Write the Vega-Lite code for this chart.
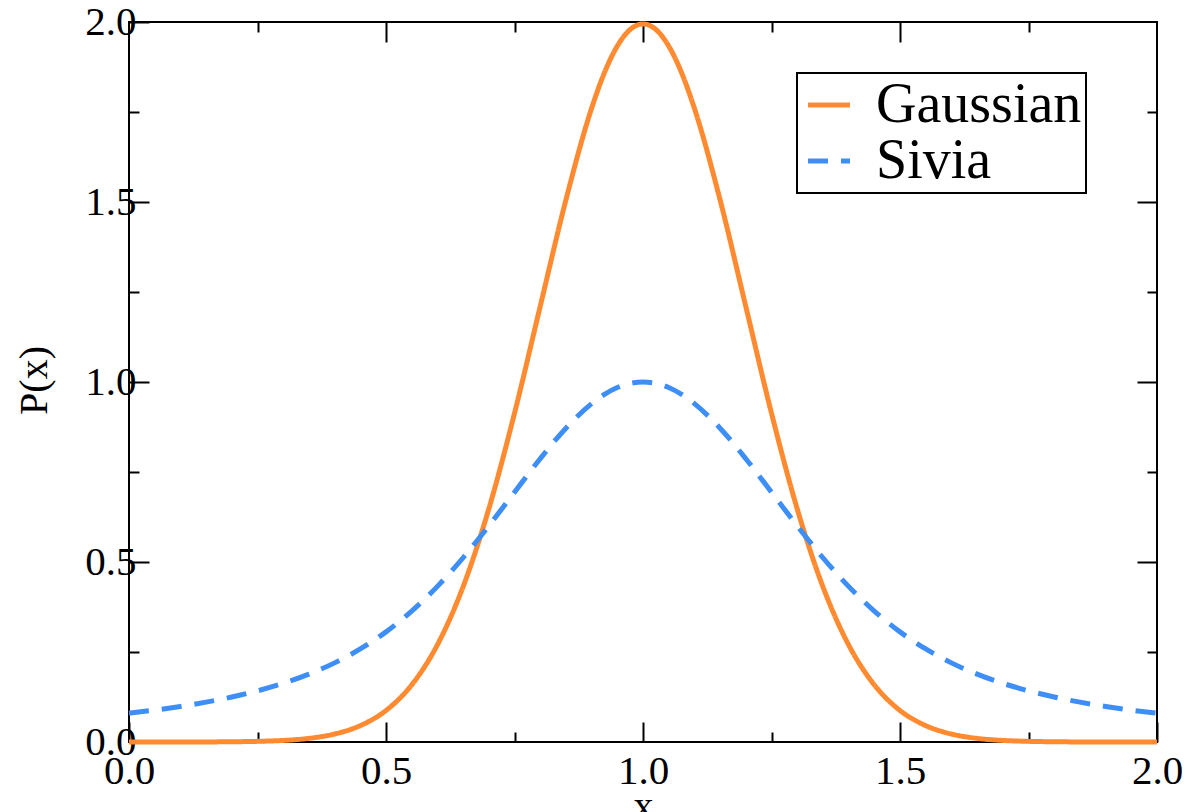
{
  "$schema": "https://vega.github.io/schema/vega-lite/v6.json",
  "width": 1028,
  "height": 720,
  "autosize": {"type": "none"},
  "padding": {"left": 129, "top": 22, "right": 46, "bottom": 70},
  "background": "white",
  "config": {
    "font": "Liberation Serif",
    "view": {"stroke": "black", "strokeWidth": 2},
    "axis": {
      "domain": false,
      "grid": false,
      "tickColor": "black",
      "tickWidth": 2,
      "labelFont": "Liberation Serif",
      "labelFontSize": 41,
      "labelColor": "black",
      "titleFont": "Liberation Serif",
      "titleFontSize": 40,
      "titleFontWeight": "normal",
      "titleColor": "black",
      "labelFlush": false,
      "labelOverlap": false
    },
    "legend": {"strokeWidth": 2}
  },
  "data": {
    "values": [
      {"x": 0, "Gaussian": 0, "Sivia": 0.08},
      {"x": 0.05, "Gaussian": 0, "Sivia": 0.0886},
      {"x": 0.1, "Gaussian": 0.0001, "Sivia": 0.0988},
      {"x": 0.15, "Gaussian": 0.0002, "Sivia": 0.1107},
      {"x": 0.2, "Gaussian": 0.0007, "Sivia": 0.125},
      {"x": 0.25, "Gaussian": 0.0018, "Sivia": 0.1421},
      {"x": 0.3, "Gaussian": 0.0044, "Sivia": 0.1629},
      {"x": 0.35, "Gaussian": 0.0101, "Sivia": 0.1884},
      {"x": 0.4, "Gaussian": 0.0222, "Sivia": 0.2198},
      {"x": 0.45, "Gaussian": 0.0455, "Sivia": 0.2584},
      {"x": 0.5, "Gaussian": 0.0876, "Sivia": 0.3059},
      {"x": 0.55, "Gaussian": 0.1587, "Sivia": 0.3636},
      {"x": 0.6, "Gaussian": 0.27, "Sivia": 0.4323},
      {"x": 0.65, "Gaussian": 0.4314, "Sivia": 0.5118},
      {"x": 0.7, "Gaussian": 0.6476, "Sivia": 0.6003},
      {"x": 0.75, "Gaussian": 0.9132, "Sivia": 0.694},
      {"x": 0.8, "Gaussian": 1.2099, "Sivia": 0.7869},
      {"x": 0.85, "Gaussian": 1.5057, "Sivia": 0.8717},
      {"x": 0.9, "Gaussian": 1.7603, "Sivia": 0.94},
      {"x": 0.925, "Gaussian": 1.8593, "Sivia": 0.9657},
      {"x": 0.95, "Gaussian": 1.9333, "Sivia": 0.9846},
      {"x": 0.975, "Gaussian": 1.9792, "Sivia": 0.9961},
      {"x": 1.0, "Gaussian": 1.9947, "Sivia": 1.0},
      {"x": 1.025, "Gaussian": 1.9792, "Sivia": 0.9961},
      {"x": 1.05, "Gaussian": 1.9333, "Sivia": 0.9846},
      {"x": 1.075, "Gaussian": 1.8593, "Sivia": 0.9657},
      {"x": 1.1, "Gaussian": 1.7603, "Sivia": 0.94},
      {"x": 1.15, "Gaussian": 1.5057, "Sivia": 0.8717},
      {"x": 1.2, "Gaussian": 1.2099, "Sivia": 0.7869},
      {"x": 1.25, "Gaussian": 0.9132, "Sivia": 0.694},
      {"x": 1.3, "Gaussian": 0.6476, "Sivia": 0.6003},
      {"x": 1.35, "Gaussian": 0.4314, "Sivia": 0.5118},
      {"x": 1.4, "Gaussian": 0.27, "Sivia": 0.4323},
      {"x": 1.45, "Gaussian": 0.1587, "Sivia": 0.3636},
      {"x": 1.5, "Gaussian": 0.0876, "Sivia": 0.3059},
      {"x": 1.55, "Gaussian": 0.0455, "Sivia": 0.2584},
      {"x": 1.6, "Gaussian": 0.0222, "Sivia": 0.2198},
      {"x": 1.65, "Gaussian": 0.0101, "Sivia": 0.1884},
      {"x": 1.7, "Gaussian": 0.0044, "Sivia": 0.1629},
      {"x": 1.75, "Gaussian": 0.0018, "Sivia": 0.1421},
      {"x": 1.8, "Gaussian": 0.0007, "Sivia": 0.125},
      {"x": 1.85, "Gaussian": 0.0002, "Sivia": 0.1107},
      {"x": 1.9, "Gaussian": 0.0001, "Sivia": 0.0988},
      {"x": 1.95, "Gaussian": 0, "Sivia": 0.0886},
      {"x": 2.0, "Gaussian": 0, "Sivia": 0.08}
    ]
  },
  "transform": [{"fold": ["Gaussian", "Sivia"], "as": ["curve", "P"]}],
  "layer": [
    {
      "mark": {"type": "line", "strokeWidth": 5, "interpolate": "monotone"},
      "encoding": {
        "x": {
          "field": "x", "type": "quantitative",
          "scale": {"domain": [0, 2], "nice": false, "zero": false},
          "axis": {
            "orient": "bottom", "values": [0, 0.5, 1, 1.5, 2], "format": ".1f",
            "tickSize": -20, "labelPadding": 29,
            "title": "x", "titleY": 76, "titleBaseline": "alphabetic", "titleAlign": "center"
          }
        },
        "y": {
          "field": "P", "type": "quantitative",
          "scale": {"domain": [0, 2], "nice": false},
          "axis": {
            "orient": "left", "values": [0, 0.5, 1, 1.5, 2], "format": ".1f",
            "tickSize": -20, "labelPadding": 13,
            "title": "P(x)", "titleAngle": -90, "titleX": -83, "titleY": 358,
            "titleBaseline": "alphabetic", "titleAlign": "center"
          }
        },
        "color": {
          "field": "curve", "type": "nominal",
          "scale": {"domain": ["Gaussian", "Sivia"], "range": ["#ff8a30", "#3e8ef7"]},
          "legend": {
            "orient": "none", "legendX": 668, "legendY": 51, "title": null,
            "labelFontSize": 56, "labelFont": "Liberation Serif", "labelColor": "black", "labelLimit": 0,
            "strokeColor": "black", "padding": 4, "symbolSize": 1764,
            "symbolStrokeWidth": 5, "labelOffset": 19, "rowPadding": -10
          }
        },
        "strokeDash": {
          "field": "curve", "type": "nominal",
          "scale": {"domain": ["Gaussian", "Sivia"], "range": [[1, 0], [20, 13]]},
          "legend": {
            "orient": "none", "legendX": 668, "legendY": 51, "title": null,
            "labelFontSize": 56, "labelFont": "Liberation Serif", "labelColor": "black", "labelLimit": 0,
            "strokeColor": "black", "padding": 4, "symbolSize": 1764,
            "symbolStrokeWidth": 5, "labelOffset": 19, "rowPadding": -10
          }
        }
      }
    },
    {
      "mark": {"type": "line", "opacity": 0},
      "encoding": {
        "detail": {"field": "curve", "type": "nominal"},
        "x": {
          "field": "x", "type": "quantitative",
          "scale": {"domain": [0, 2], "nice": false, "zero": false},
          "axis": {"orient": "bottom", "values": [0.25, 0.75, 1.25, 1.75], "tickSize": -10, "labels": false, "title": null}
        },
        "y": {
          "field": "P", "type": "quantitative",
          "scale": {"domain": [0, 2], "nice": false},
          "axis": {"orient": "left", "values": [0.25, 0.75, 1.25, 1.75], "tickSize": -10, "labels": false, "title": null}
        }
      }
    },
    {
      "mark": {"type": "line", "opacity": 0},
      "encoding": {
        "detail": {"field": "curve", "type": "nominal"},
        "x": {
          "field": "x", "type": "quantitative",
          "scale": {"domain": [0, 2], "nice": false, "zero": false},
          "axis": {"orient": "top", "values": [0.5, 1, 1.5], "tickSize": -20, "labels": false, "title": null}
        },
        "y": {
          "field": "P", "type": "quantitative",
          "scale": {"domain": [0, 2], "nice": false},
          "axis": {"orient": "right", "values": [0.5, 1, 1.5], "tickSize": -20, "labels": false, "title": null}
        }
      }
    },
    {
      "mark": {"type": "line", "opacity": 0},
      "encoding": {
        "detail": {"field": "curve", "type": "nominal"},
        "x": {
          "field": "x", "type": "quantitative",
          "scale": {"domain": [0, 2], "nice": false, "zero": false},
          "axis": {"orient": "top", "values": [0.25, 0.75, 1.25, 1.75], "tickSize": -10, "labels": false, "title": null}
        },
        "y": {
          "field": "P", "type": "quantitative",
          "scale": {"domain": [0, 2], "nice": false},
          "axis": {"orient": "right", "values": [0.25, 0.75, 1.25, 1.75], "tickSize": -10, "labels": false, "title": null}
        }
      }
    }
  ],
  "resolve": {"axis": {"x": "independent", "y": "independent"}}
}
